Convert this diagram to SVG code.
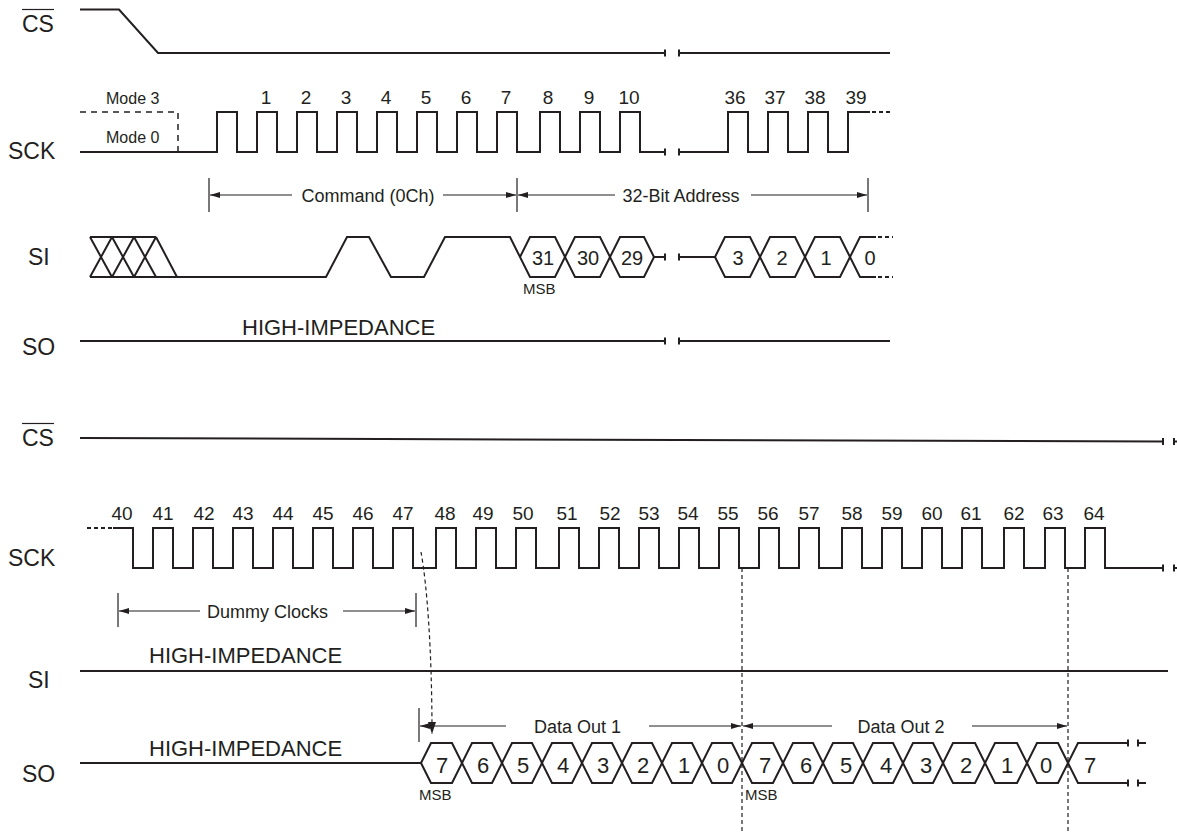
<svg xmlns="http://www.w3.org/2000/svg" width="1177" height="833" viewBox="0 0 1177 833">
<style>
text{font-family:"Liberation Sans",Arial,sans-serif;fill:#231f20}
.sig{fill:none;stroke:#231f20;stroke-width:2}
.thin{fill:none;stroke:#231f20;stroke-width:1.2}
.dot{fill:none;stroke:#231f20;stroke-width:2;stroke-dasharray:4 4}
.dash{fill:none;stroke:#231f20;stroke-width:1.2;stroke-dasharray:4 3}
.lbl{font-size:23px}
.num{font-size:19px;text-anchor:middle}
.hex{font-size:20px;text-anchor:middle}
.hexb{font-size:22px;text-anchor:middle}
.ann{font-size:18px;text-anchor:middle}
.msb{font-size:15px}
.mode{font-size:16px}
.hi{font-size:22px}
</style>
<defs>
<marker id="ah" viewBox="0 0 10 6" refX="10" refY="3" markerWidth="10" markerHeight="6" markerUnits="userSpaceOnUse" orient="auto">
<path d="M0,0 L10,3 L0,6 Z" fill="#231f20"/>
</marker>
<marker id="ahd" viewBox="0 0 8 12" refX="4" refY="12" markerWidth="8" markerHeight="12" markerUnits="userSpaceOnUse" orient="0">
<path d="M0,0 L8,0 L4,12 Z" fill="#231f20"/>
</marker>
</defs>

<g id="labels">
<text class="lbl" x="22" y="32">CS</text>
<line class="thin" x1="22" y1="9.5" x2="54" y2="9.5"/>
<text class="lbl" x="8" y="159">SCK</text>
<text class="lbl" x="28" y="265">SI</text>
<text class="lbl" x="22" y="355">SO</text>
<text class="lbl" x="22" y="446">CS</text>
<line class="thin" x1="22" y1="423.5" x2="54" y2="423.5"/>
<text class="lbl" x="8" y="566">SCK</text>
<text class="lbl" x="28" y="688">SI</text>
<text class="lbl" x="22" y="782">SO</text>
</g>

<g id="cs-top">
<path class="sig" d="M80,9.5 H119 L158,53 H665"/>
<path class="sig" d="M665,49.5 V56.5 M679,49.5 V56.5 M679,53 H890"/>
</g>

<g id="sck-top">
<path class="dot" d="M80,112 H178 V152" style="stroke-width:1.5;stroke-dasharray:6 5"/>
<text class="mode" x="106" y="104">Mode 3</text>
<text class="mode" x="106" y="143">Mode 0</text>
<path class="sig" d="M80,152 H217 V112 H237 V152 H257 V112 H277 V152 H297 V112 H317 V152 H337 V112 H357 V152 H377 V112 H397 V152 H417 V112 H437 V152 H457 V112 H477 V152 H497 V112 H517 V152 H540 V112 H560 V152 H580 V112 H600 V152 H620 V112 H640 V152 H665"/>
<path class="sig" d="M665,148.5 V155.5 M679,148.5 V155.5"/>
<path class="sig" d="M679,152 H728 V112 H748 V152 H768 V112 H788 V152 H808 V112 H828 V152 H848 V112 H870"/>
<path class="dot" d="M872,112 H892" style="stroke-dasharray:4 3"/>
<text class="num" x="266" y="104">1</text>
<text class="num" x="306" y="104">2</text>
<text class="num" x="346" y="104">3</text>
<text class="num" x="386" y="104">4</text>
<text class="num" x="426" y="104">5</text>
<text class="num" x="466" y="104">6</text>
<text class="num" x="506" y="104">7</text>
<text class="num" x="548" y="104">8</text>
<text class="num" x="589" y="104">9</text>
<text class="num" x="629" y="104">10</text>
<text class="num" x="735" y="104">36</text>
<text class="num" x="775" y="104">37</text>
<text class="num" x="815" y="104">38</text>
<text class="num" x="856" y="104">39</text>
</g>

<g id="cmd-bracket">
<path class="thin" d="M209,178 V212 M517,178 V212 M868,178 V212"/>
<path class="thin" d="M292,195 H210" marker-end="url(#ah)"/>
<path class="thin" d="M443,195 H516" marker-end="url(#ah)"/>
<text class="ann" x="368" y="202">Command (0Ch)</text>
<path class="thin" d="M615,195 H518" marker-end="url(#ah)"/>
<path class="thin" d="M751,195 H867" marker-end="url(#ah)"/>
<text class="ann" x="681" y="202">32-Bit Address</text>
</g>

<g id="si-top">
<path class="sig" d="M90,237 H156 M90,237 L112,277 M112,237 L134,277 M134,237 L156,277 M156,237 L177,277 M90,277 L112,237 M112,277 L134,237 M134,277 L156,237"/>
<path class="sig" d="M90,277 H326 L347,237 H369 L391,277 H424 L445,237 H510 L530,277 H555 L575,237 H600 L620,277 H644 L654,257 H665"/>
<path class="sig" d="M520,257 L530,237 H555 L575,277 H600 L620,237 H644 L654,257"/>
<path class="sig" d="M665,253.5 V260.5 M679,253.5 V260.5"/>
<path class="sig" d="M679,257 H715 L725,237 H750 L770,277 H795 L815,237 H840 L860,277 H876"/>
<path class="sig" d="M715,257 L725,277 H750 L770,237 H795 L815,277 H840 L860,237 H876"/>
<path class="dot" d="M878,237 H893 M878,277 H893" style="stroke-dasharray:4 3"/>
<text class="hex" x="543" y="265">31</text>
<text class="hex" x="588" y="265">30</text>
<text class="hex" x="632" y="265">29</text>
<text class="hex" x="738" y="265">3</text>
<text class="hex" x="782" y="265">2</text>
<text class="hex" x="826" y="265">1</text>
<text class="hex" x="870" y="265">0</text>
<text class="msb" x="523" y="294">MSB</text>
</g>

<g id="so-top">
<path class="sig" d="M80,341 H665 M665,337.5 V344.5 M679,337.5 V344.5 M679,341 H890"/>
<text class="hi" x="242" y="335">HIGH-IMPEDANCE</text>
</g>

<g id="cs-bottom">
<path class="sig" d="M80,438 L1163,441.5 M1163,438 V445 M1174,438 V445 M1174,441.5 H1178"/>
</g>

<g id="sck-bottom">
<path class="dot" d="M87,528 H112" style="stroke-dasharray:4 3"/>
<path class="sig" d="M113,528 H133 V568 H153 V528 H173 V568 H193 V528 H213 V568 H233 V528 H253 V568 H273 V528 H293 V568 H313 V528 H333 V568 H353 V528 H373 V568 H393 V528 H413 V568 H436 V528 H456 V568 H476 V528 H496 V568 H516 V528 H536 V568 H559 V528 H579 V568 H599 V528 H619 V568 H639 V528 H659 V568 H679 V528 H699 V568 H719 V528 H739 V568 H759 V528 H779 V568 H799 V528 H819 V568 H842 V528 H862 V568 H882 V528 H902 V568 H922 V528 H942 V568 H962 V528 H982 V568 H1004 V528 H1024 V568 H1045 V528 H1065 V568 H1085 V528 H1105 V568 H1163"/>
<path class="sig" d="M1163,564.5 V571.5 M1174,564.5 V571.5 M1174,568 H1178"/>
<text class="num" x="122" y="520">40</text>
<text class="num" x="163" y="520">41</text>
<text class="num" x="204" y="520">42</text>
<text class="num" x="243" y="520">43</text>
<text class="num" x="283" y="520">44</text>
<text class="num" x="323" y="520">45</text>
<text class="num" x="363" y="520">46</text>
<text class="num" x="403" y="520">47</text>
<text class="num" x="445" y="520">48</text>
<text class="num" x="483" y="520">49</text>
<text class="num" x="523" y="520">50</text>
<text class="num" x="567" y="520">51</text>
<text class="num" x="610" y="520">52</text>
<text class="num" x="649" y="520">53</text>
<text class="num" x="688" y="520">54</text>
<text class="num" x="728" y="520">55</text>
<text class="num" x="768" y="520">56</text>
<text class="num" x="809" y="520">57</text>
<text class="num" x="852" y="520">58</text>
<text class="num" x="892" y="520">59</text>
<text class="num" x="932" y="520">60</text>
<text class="num" x="971" y="520">61</text>
<text class="num" x="1014" y="520">62</text>
<text class="num" x="1053" y="520">63</text>
<text class="num" x="1094" y="520">64</text>
</g>

<g id="dummy-bracket">
<path class="thin" d="M118,593 V627 M416,593 V627"/>
<path class="thin" d="M200,611 H119" marker-end="url(#ah)"/>
<path class="thin" d="M343,611 H415" marker-end="url(#ah)"/>
<text class="ann" x="267.5" y="618">Dummy Clocks</text>
</g>

<g id="si-bottom">
<path class="sig" d="M80,671 H1168"/>
<text class="hi" x="149" y="663">HIGH-IMPEDANCE</text>
</g>

<g id="so-bottom">
<text class="hi" x="149" y="756">HIGH-IMPEDANCE</text>
<path class="sig" d="M80,763 H421 L431,743 H452 L472,783 H492 L512,743 H532 L552,783 H572 L592,743 H612 L632,783 H652 L672,743 H692 L712,783 H732 L752,743 H773 L793,783 H813 L833,743 H853 L873,783 H893 L913,743 H933 L953,783 H975 L995,743 H1017 L1037,783 H1058 L1078,743 H1128"/>
<path class="sig" d="M421,763 L431,783 H452 L472,743 H492 L512,783 H532 L552,743 H572 L592,783 H612 L632,743 H652 L672,783 H692 L712,743 H732 L752,783 H773 L793,743 H813 L833,783 H853 L873,743 H893 L913,783 H933 L953,743 H975 L995,783 H1017 L1037,743 H1058 L1078,783 H1128"/>
<path class="sig" d="M1128,739.5 V746.5 M1128,779.5 V786.5 M1138,739.5 V746.5 M1138,779.5 V786.5 M1138,743 H1146 M1138,783 H1146"/>
<text class="hexb" x="442" y="773">7</text>
<text class="hexb" x="483" y="773">6</text>
<text class="hexb" x="523" y="773">5</text>
<text class="hexb" x="563" y="773">4</text>
<text class="hexb" x="603" y="773">3</text>
<text class="hexb" x="643" y="773">2</text>
<text class="hexb" x="684" y="773">1</text>
<text class="hexb" x="723" y="773">0</text>
<text class="hexb" x="765" y="773">7</text>
<text class="hexb" x="806" y="773">6</text>
<text class="hexb" x="846" y="773">5</text>
<text class="hexb" x="886" y="773">4</text>
<text class="hexb" x="926" y="773">3</text>
<text class="hexb" x="966" y="773">2</text>
<text class="hexb" x="1007" y="773">1</text>
<text class="hexb" x="1046" y="773">0</text>
<text class="hexb" x="1090" y="773">7</text>
<text class="msb" x="419" y="800">MSB</text>
<text class="msb" x="745" y="800">MSB</text>
</g>

<g id="dataout-brackets">
<path class="thin" d="M419,708 V742"/>
<path class="thin" d="M506,726 H420" marker-end="url(#ah)"/>
<path class="thin" d="M649,726 H741" marker-end="url(#ah)"/>
<text class="ann" x="577.5" y="733">Data Out 1</text>
<path class="thin" d="M832,726 H743" marker-end="url(#ah)"/>
<path class="thin" d="M972,726 H1067" marker-end="url(#ah)"/>
<text class="ann" x="901" y="733">Data Out 2</text>
</g>

<g id="connectors">
<path class="dash" d="M742,568 V833"/>
<path class="dash" d="M1068,568 V833"/>
<path class="dash" d="M421,552 C427,585 432,650 432,734" marker-end="url(#ahd)"/>
</g>
</svg>
